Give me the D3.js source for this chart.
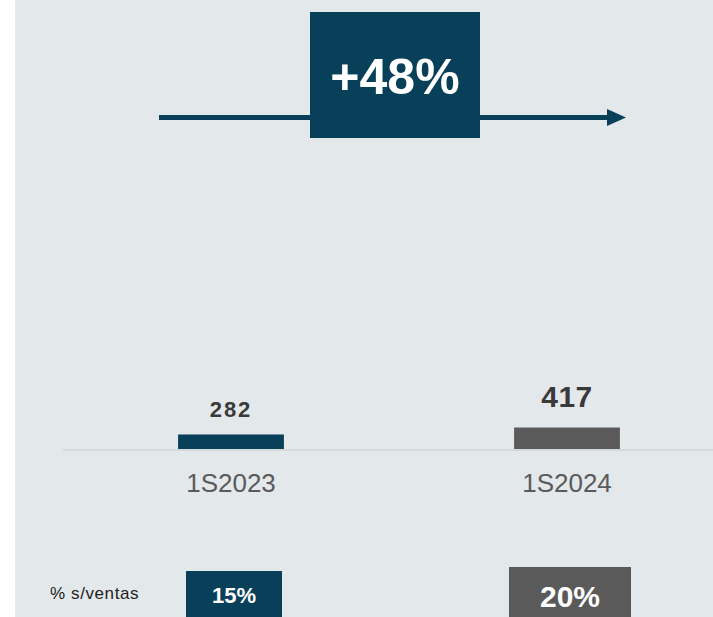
<!DOCTYPE html>
<html><head><meta charset="utf-8">
<script src="https://cdn.jsdelivr.net/npm/d3@7"></script>
<style>html,body{margin:0;padding:0;background:#fff;}svg{display:block;}</style>
</head><body>
<script>
const categories = ["1S2023", "1S2024"];
const values = [282, 417];
const pctSales = ["15%", "20%"];
const growthLabel = "+48%";
const rowLabel = "% s/ventas";

const W = 713, H = 617;
const dark = "#08405a", gray = "#5a5a5a";
const barColors = [dark, gray];
const valueFont = [22, 30];
const pctFont = [22, 30];
const pctBox = [{w: 96, top: 571}, {w: 122, top: 567}];

const svg = d3.select("body").append("svg").attr("width", W).attr("height", H);
svg.append("rect").attr("x", 15).attr("y", 0).attr("width", W - 15).attr("height", H).attr("fill", "#e3e8eb");

const baseY = 449;
const x = d3.scaleBand().domain(categories).range([63, 735]).paddingInner(0.685).paddingOuter(0.3425);
const y = d3.scaleLinear().domain([0, 8000]).range([baseY, baseY - 412]);

// baseline
svg.append("line").attr("x1", 63).attr("x2", W).attr("y1", baseY + 1).attr("y2", baseY + 1)
  .attr("stroke", "#d4d8db").attr("stroke-width", 2);

// bars
svg.selectAll("rect.bar").data(values).enter().append("rect").attr("class", "bar")
  .attr("x", (d, i) => x(categories[i]))
  .attr("width", x.bandwidth())
  .attr("y", d => y(d))
  .attr("height", d => baseY - y(d))
  .attr("fill", (d, i) => barColors[i]);

// value labels
svg.selectAll("text.val").data(values).enter().append("text").attr("class", "val")
  .attr("x", (d, i) => x(categories[i]) + x.bandwidth() / 2)
  .attr("y", (d, i) => i === 0 ? 417 : 407)
  .attr("text-anchor", "middle")
  .attr("font-family", "Liberation Sans, Arial, sans-serif")
  .attr("font-weight", "bold")
  .attr("font-size", (d, i) => valueFont[i])
  .attr("letter-spacing", (d, i) => i === 0 ? 2 : 0.5)
  .attr("fill", "#3a3a3a")
  .text(d => d);

// category labels
svg.selectAll("text.cat").data(categories).enter().append("text").attr("class", "cat")
  .attr("x", d => x(d) + x.bandwidth() / 2)
  .attr("y", 492)
  .attr("text-anchor", "middle")
  .attr("font-family", "Liberation Sans, Arial, sans-serif")
  .attr("font-size", 26)
  .attr("fill", "#5a5a5a")
  .text(d => d);

// growth arrow
svg.append("line").attr("x1", 159).attr("x2", 612).attr("y1", 117.5).attr("y2", 117.5)
  .attr("stroke", dark).attr("stroke-width", 5);
svg.append("path").attr("d", "M607,109 L626,117.5 L607,126 Z").attr("fill", dark);
svg.append("rect").attr("x", 310).attr("y", 12).attr("width", 170).attr("height", 126).attr("fill", dark);
svg.append("text").attr("x", 395).attr("y", 94).attr("text-anchor", "middle")
  .attr("font-family", "Liberation Sans, Arial, sans-serif").attr("font-weight", "bold")
  .attr("font-size", 50).attr("fill", "#fff").text(growthLabel);

// % s/ventas row
svg.append("text").attr("x", 50).attr("y", 599)
  .attr("font-family", "Liberation Sans, Arial, sans-serif").attr("font-size", 17)
  .attr("letter-spacing", 0.6)
  .attr("fill", "#222").text(rowLabel);

const cx = c => x(c) + x.bandwidth() / 2 + 3;
svg.selectAll("rect.pct").data(pctSales).enter().append("rect").attr("class", "pct")
  .attr("x", (d, i) => cx(categories[i]) - pctBox[i].w / 2)
  .attr("y", (d, i) => pctBox[i].top)
  .attr("width", (d, i) => pctBox[i].w)
  .attr("height", (d, i) => H - pctBox[i].top)
  .attr("fill", (d, i) => barColors[i]);
svg.selectAll("text.pct").data(pctSales).enter().append("text").attr("class", "pct")
  .attr("x", (d, i) => cx(categories[i]))
  .attr("y", (d, i) => i === 0 ? 603 : 607)
  .attr("text-anchor", "middle")
  .attr("font-family", "Liberation Sans, Arial, sans-serif").attr("font-weight", "bold")
  .attr("font-size", (d, i) => pctFont[i])
  .attr("fill", "#fff").text(d => d);
</script>
</body></html>
